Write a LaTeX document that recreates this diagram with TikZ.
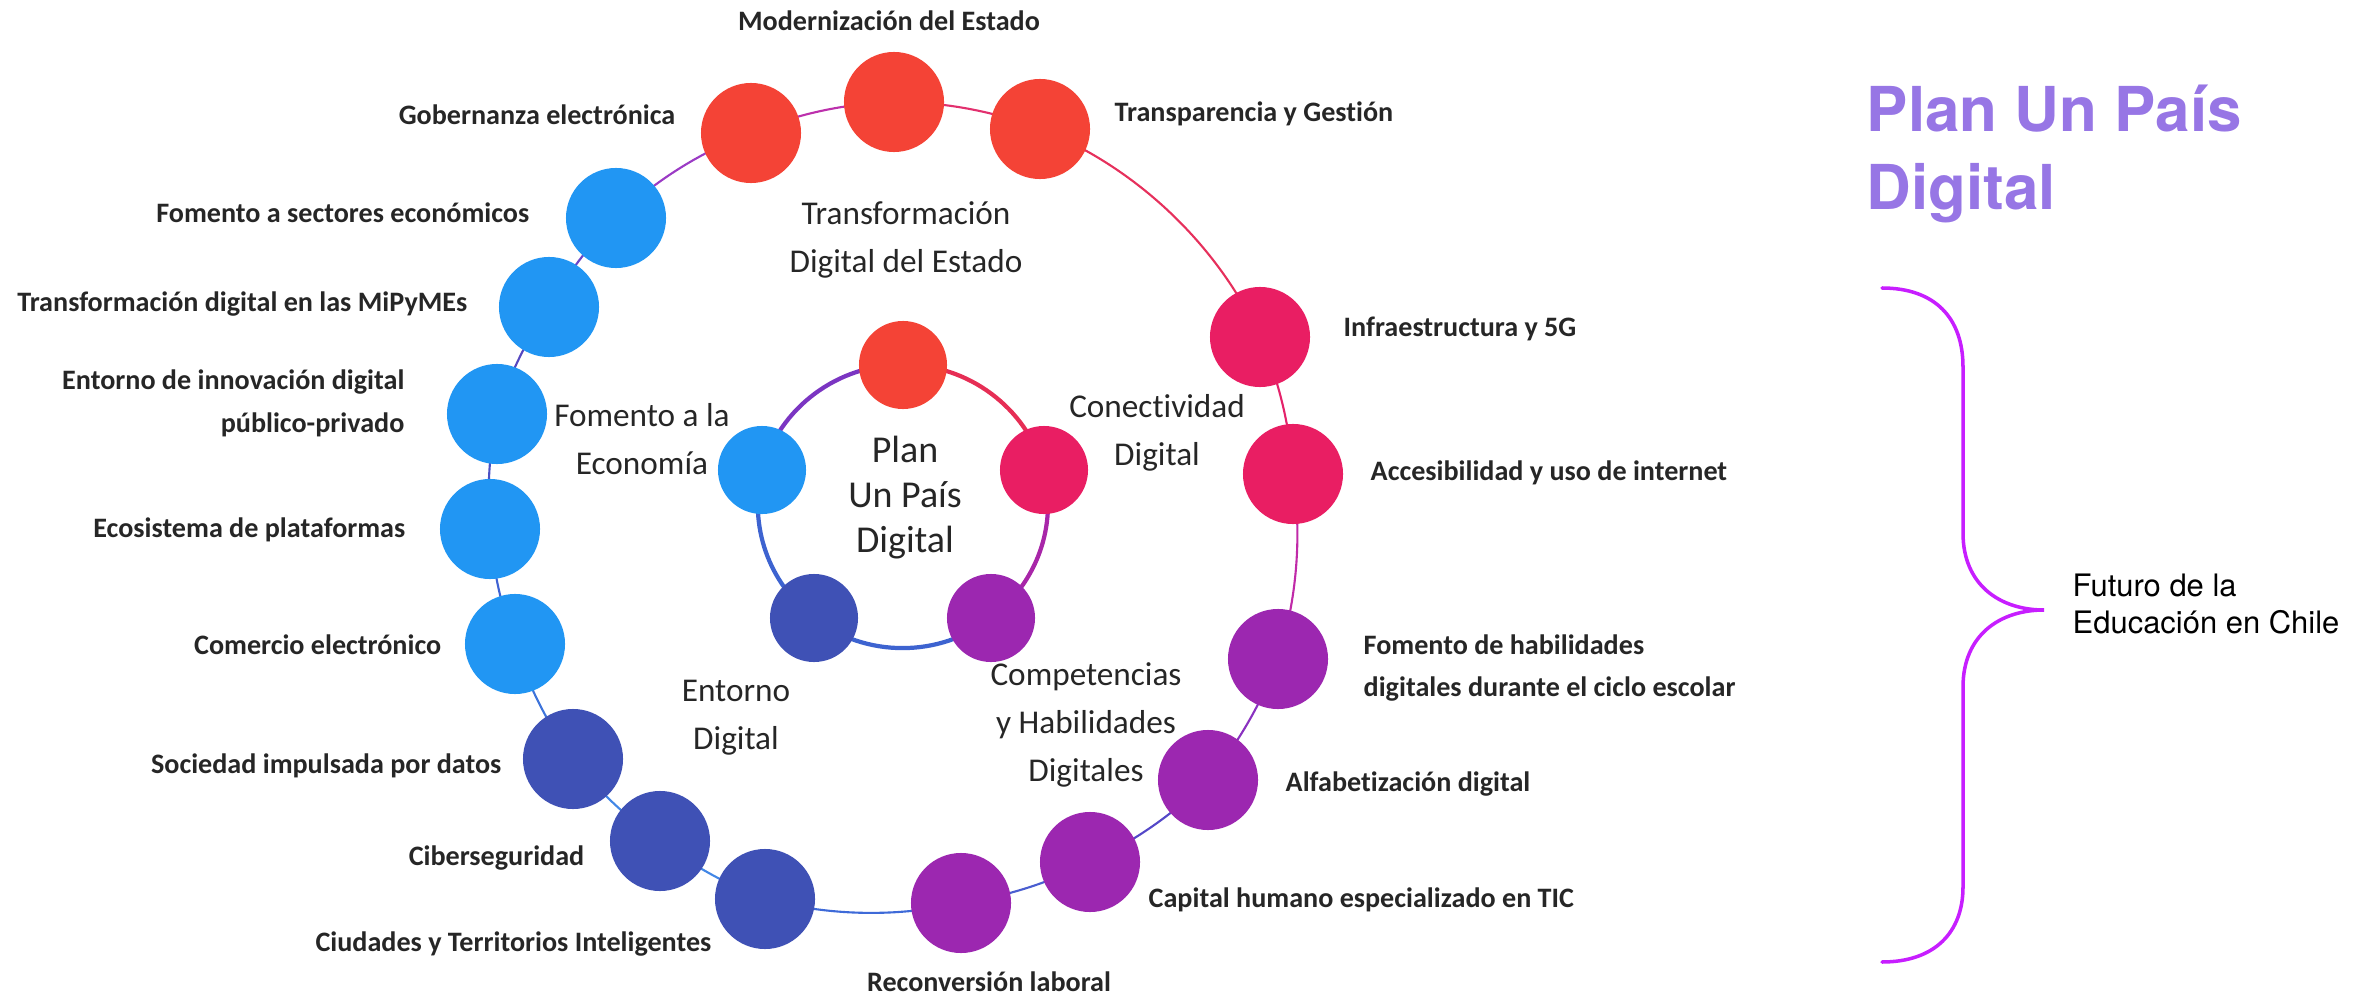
\documentclass[tikz,border=0pt]{standalone}
\usepackage{fontspec}
\setmainfont{Carlito}[Ligatures=NoCommon]
\newfontfamily\grotesk{TeX Gyre Heros}
\usetikzlibrary{backgrounds}

% node fills
\definecolor{cRed}{HTML}{F44336}
\definecolor{cPink}{HTML}{E91E63}
\definecolor{cPurple}{HTML}{9C27B0}
\definecolor{cIndigo}{HTML}{3F51B5}
\definecolor{cBlue}{HTML}{2196F3}
% text and accents
\definecolor{ink}{HTML}{262626}
\definecolor{titleviolet}{HTML}{9776E5}
\definecolor{bracemag}{HTML}{C71EFF}
% ring segment colours
\definecolor{kA}{HTML}{E2306E}
\definecolor{kB}{HTML}{BC30AC}
\definecolor{kC}{HTML}{9B3BC5}
\definecolor{kD}{HTML}{6A45C8}
\definecolor{kE}{HTML}{5547C0}
\definecolor{kF}{HTML}{4B50C4}
\definecolor{kG}{HTML}{3F62D2}
\definecolor{kH}{HTML}{3E74DA}
\definecolor{kI}{HTML}{4287E6}
\definecolor{kJ}{HTML}{3E6AD8}
\definecolor{kK}{HTML}{4A5ED0}
\definecolor{kL}{HTML}{5448C8}
\definecolor{kM}{HTML}{8A32C0}
\definecolor{kN}{HTML}{C02AA8}
\definecolor{kO}{HTML}{E4226A}
\definecolor{kP}{HTML}{E6305C}
\definecolor{iA}{HTML}{7B35C2}
\definecolor{iB}{HTML}{E62E55}
\definecolor{iC}{HTML}{A826A8}
\definecolor{iD}{HTML}{3D63D0}

\begin{document}
\begin{tikzpicture}[x=0.01cm, y=-0.01cm,
  dot/.style={circle, inner sep=0pt, minimum size=1cm, fill=#1},
  hub/.style={circle, inner sep=0pt, minimum size=0.88cm, fill=#1},
  lbl/.style={inner sep=0pt, text=ink, font=\bfseries\fontsize{8}{12.2}\selectfont},
  area/.style={inner sep=0pt, text=ink, align=center, font=\fontsize{9.45}{13.6}\selectfont},
  olink/.style={line width=0.6pt, draw=#1, looseness=0.86},
  ilink/.style={line width=1.2pt, draw=#1, looseness=0.94},
  titletext/.style={inner sep=0pt, text=titleviolet, font=\grotesk\bfseries\fontsize{17.6}{21}\selectfont},
  sidetext/.style={inner sep=0pt, text=black, font=\grotesk\fontsize{8.8}{10.5}\selectfont},
  bracepath/.style={draw=bracemag, line width=1pt, line cap=round}
]
\useasboundingbox (0,0) rectangle (2369,994);

% ---------- outer ring of initiatives ----------
\node[dot=cRed]    (om)  at (894,102) {};
\node[dot=cRed]    (ot)  at (1040,129) {};
\node[dot=cRed]    (og)  at (751,133) {};
\node[dot=cBlue]   (of)  at (616,218) {};
\node[dot=cBlue]   (omi) at (549,307) {};
\node[dot=cBlue]   (oe)  at (497,414) {};
\node[dot=cBlue]   (oec) at (490,529) {};
\node[dot=cBlue]   (oc)  at (515,644) {};
\node[dot=cIndigo] (os)  at (573,759) {};
\node[dot=cIndigo] (oci) at (660,841) {};
\node[dot=cIndigo] (ocu) at (765,899) {};
\node[dot=cPurple] (or)  at (961,903) {};
\node[dot=cPurple] (oca) at (1090,862) {};
\node[dot=cPurple] (oa)  at (1208,780) {};
\node[dot=cPurple] (ofh) at (1278,659) {};
\node[dot=cPink]   (oac) at (1293,474) {};
\node[dot=cPink]   (oi)  at (1260,337) {};

% ---------- inner ring of axes ----------
\node[hub=cRed]    (it)  at (903,365) {};
\node[hub=cPink]   (ir)  at (1044,470) {};
\node[hub=cPurple] (ibr) at (991,618) {};
\node[hub=cIndigo] (ibl) at (814,618) {};
\node[hub=cBlue]   (il)  at (762,470) {};

% ring segments run centre to centre, behind the discs
\begin{scope}[on background layer]
\draw[olink=kA] (ot.center)  to[bend right=10.6] (om.center);
\draw[olink=kB] (om.center)  to[bend right=10.5] (og.center);
\draw[olink=kC] (og.center)  to[bend right=11.7] (of.center);
\draw[olink=kD] (of.center)  to[bend right=8]    (omi.center);
\draw[olink=kE] (omi.center) to[bend right=8.5]  (oe.center);
\draw[olink=kF] (oe.center)  to[bend right=8.2]  (oec.center);
\draw[olink=kG] (oec.center) to[bend right=8.3]  (oc.center);
\draw[olink=kH] (oc.center)  to[bend right=9.2]  (os.center);
\draw[olink=kI] (os.center)  to[bend right=8.4]  (oci.center);
\draw[olink=kI] (oci.center) to[bend right=8.4]  (ocu.center);
\draw[olink=kJ] (ocu.center) to[bend right=13.8] (or.center);
\draw[olink=kK] (or.center)  to[bend right=9.5]  (oca.center);
\draw[olink=kL] (oca.center) to[bend right=10]   (oa.center);
\draw[olink=kM] (oa.center)  to[bend right=9.6]  (ofh.center);
\draw[olink=kN] (ofh.center) to[bend right=13.1] (oac.center);
\draw[olink=kO] (oac.center) to[bend right=10]   (oi.center);
\draw[olink=kP] (oi.center)  to[bend right=22]   (ot.center);

\draw[ilink=iB] (ir.center)  to[bend right=37.9] (it.center);
\draw[ilink=iA] (it.center)  to[bend right=37.9] (il.center);
\draw[ilink=iD] (il.center)  to[bend right=33]   (ibl.center);
\draw[ilink=iD] (ibl.center) to[bend right=38.2] (ibr.center);
\draw[ilink=iC] (ibr.center) to[bend right=33]   (ir.center);
\end{scope}

\node[inner sep=0pt, text=ink, align=center, font=\fontsize{10.8}{12.8}\selectfont] (core) at (905,498) {Plan\\Un País\\Digital};

% ---------- axis names ----------
\node[area] (aEstado) at (906,240) {Transformación\\Digital del Estado};
\node[area] (aEcon)   at (642,439) {Fomento a la\\Economía};
\node[area] (aConec)  at (1157,433) {Conectividad\\Digital};
\node[area] (aComp)   at (1086,725) {Competencias\\y Habilidades\\Digitales};
\node[area] (aEnt)    at (736,718) {Entorno\\Digital};

% ---------- initiative labels ----------
\node[lbl] (lm)  at (889,21) {Modernización del Estado};
\node[lbl, anchor=west] (lt)  at (1114,114) {Transparencia y Gestión};
\node[lbl, anchor=east] (lg)  at (676,115) {Gobernanza electrónica};
\node[lbl, anchor=east] (lf)  at (530,213) {Fomento a sectores económicos};
\node[lbl, anchor=east] (lmi) at (468,304) {Transformación digital en las MiPyMEs};
\node[lbl, anchor=east, align=right] (le) at (405,403) {Entorno de innovación digital\\público-privado};
\node[lbl, anchor=east] (lec) at (406,530) {Ecosistema de plataformas};
\node[lbl, anchor=east] (lc)  at (442,645) {Comercio electrónico};
\node[lbl, anchor=east] (ls)  at (502,766) {Sociedad impulsada por datos};
\node[lbl, anchor=east] (lci) at (585,858) {Ciberseguridad};
\node[lbl, anchor=east] (lcu) at (712,944) {Ciudades y Territorios Inteligentes};
\node[lbl] (lr)  at (989,982) {Reconversión laboral};
\node[lbl, anchor=west] (lca) at (1148,900) {Capital humano especializado en TIC};
\node[lbl, anchor=west] (la)  at (1285,784) {Alfabetización digital};
\node[lbl, anchor=west, align=left] (lfh) at (1363,668) {Fomento de habilidades\\digitales durante el ciclo escolar};
\node[lbl, anchor=west] (lac) at (1370,473) {Accesibilidad y uso de internet};
\node[lbl, anchor=west] (li)  at (1343,329) {Infraestructura y 5G};

% ---------- title and bracket note ----------
\node[titletext, anchor=base west] (title1) at (1866,132) {Plan Un País};
\node[titletext, anchor=base west] (title2) at (1866,209) {Digital};

\draw[bracepath] (1882,288) .. controls (1935,288) and (1963,318) .. (1963,367)
  -- (1963,533) .. controls (1963,585) and (2000,610) .. (2044,610)
  .. controls (2000,610) and (1963,635) .. (1963,687)
  -- (1963,887) .. controls (1963,932) and (1935,962) .. (1882,962);

\node[sidetext, anchor=base west] (note1) at (2072,596) {Futuro de la};
\node[sidetext, anchor=base west] (note2) at (2072,633) {Educación en Chile};
\end{tikzpicture}
\end{document}
